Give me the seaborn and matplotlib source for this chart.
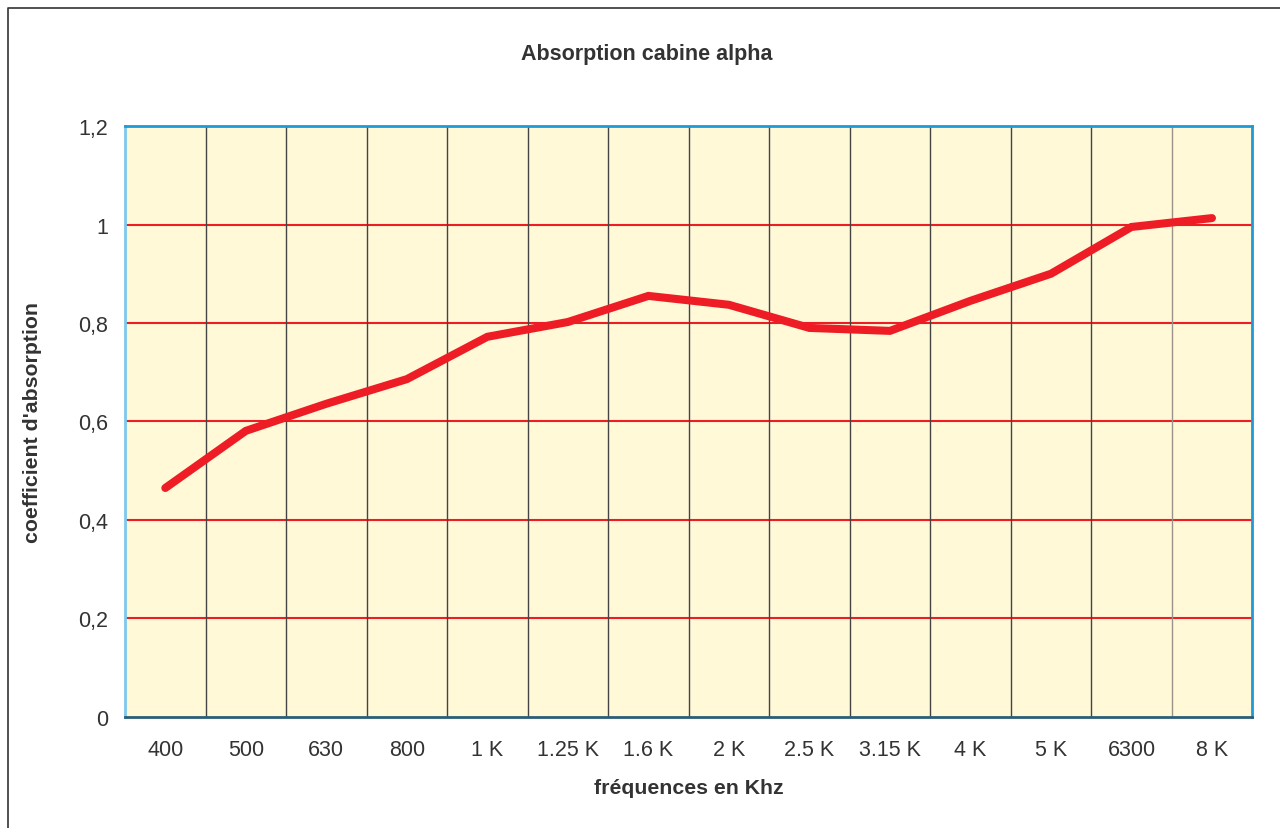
#!/usr/bin/env python3
import numpy as np
import matplotlib
matplotlib.use('Agg')
import matplotlib.pyplot as plt
from matplotlib.lines import Line2D
import seaborn as sns

sns.set_style("white")
plt.rcParams['font.family'] = ['Liberation Sans', 'DejaVu Sans']

frequences = ['400', '500', '630', '800', '1 K', '1.25 K', '1.6 K', '2 K',
              '2.5 K', '3.15 K', '4 K', '5 K', '6300', '8 K']
alpha = [0.465, 0.581, 0.636, 0.686, 0.772, 0.802, 0.855, 0.837,
         0.790, 0.784, 0.845, 0.900, 0.995, 1.013]
y_ticks = [0, 0.2, 0.4, 0.6, 0.8, 1.0, 1.2]
y_labels = ['0', '0,2', '0,4', '0,6', '0,8', '1', '1,2']

fig = plt.figure(figsize=(12.8, 8.29), dpi=100)
ax = fig.add_axes([0.0977, 0.1339, 0.8806, 0.7129])
ax.set_facecolor('#fff9d7')

# cadre autour de la figure (seuls les bords haut et gauche sont visibles)
x0, y0 = 7.5 / 1280, 1 - 8.5 / 829
fig.lines.append(Line2D([x0, x0, 1.01], [-0.01, y0, y0], transform=fig.transFigure,
                        color='#333333', linewidth=1.2))

# grille horizontale rouge
for y in y_ticks[1:-1]:
    ax.axhline(y, color='#ee1c25', linewidth=1.5, zorder=1)
# grille verticale entre catégories
for i in range(1, len(frequences)):
    ax.axvline(i - 0.5, color='#444444' if i < len(frequences) - 1 else '#9a9488',
               linewidth=1.0, zorder=1)

x = np.arange(len(frequences))
sns.lineplot(x=x, y=alpha, ax=ax, color='#ee1c25', linewidth=5.8,
             solid_capstyle='round', solid_joinstyle='miter', zorder=3)

ax.set_xlim(-0.5, len(frequences) - 0.5)
ax.set_ylim(0, 1.2)
ax.set_xticks(x)
ax.set_xticklabels(frequences)
ax.set_yticks(y_ticks)
ax.set_yticklabels(y_labels)
ax.tick_params(axis='both', length=0, labelsize=15.5, labelcolor='#333333')
ax.tick_params(axis='x', pad=16)
ax.tick_params(axis='y', pad=12)

for side in ['top', 'right']:
    ax.spines[side].set_color('#1e9ad6')
    ax.spines[side].set_linewidth(2)
ax.spines['left'].set_color('#7cc8ee')
ax.spines['left'].set_linewidth(2)
ax.spines['bottom'].set_color('#2a5e78')
ax.spines['bottom'].set_linewidth(2)

ax.set_xlabel("fréquences en Khz", fontsize=15.3, fontweight='bold',
              color='#333333', labelpad=13)
ax.set_ylabel("coefficient d'absorption", fontsize=15.3, fontweight='bold',
              color='#333333', labelpad=26)
fig.text(0.505, 0.934, 'Absorption cabine alpha', ha='center', va='center',
         fontsize=15.5, fontweight='bold', color='#333333')

fig.savefig('out.png', dpi=100)
